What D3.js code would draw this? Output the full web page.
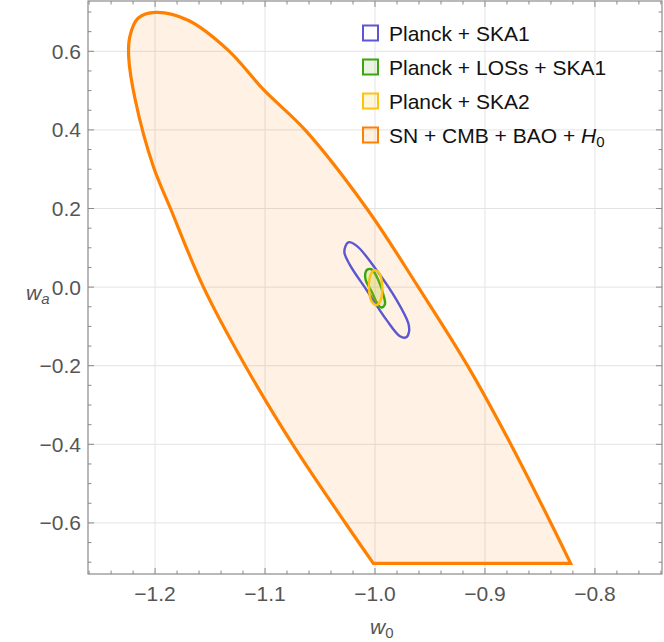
<!DOCTYPE html>
<html><head><meta charset="utf-8">
<script src="https://cdn.jsdelivr.net/npm/d3@7"></script>
<style>body{margin:0;background:#fff}text{font-family:"Liberation Sans",Arial,sans-serif}</style>
</head><body>
<svg id="c" width="664" height="642"></svg>
<script>
// contour points [w0, wa]; orange from bottom-left, up the left side, over the top, down the right side
const orangeContour = [[-1.0015,-0.703],[-1.026,-0.604],[-1.074,-0.404],[-1.118,-0.2],[-1.156,0.0],[-1.186,0.2],[-1.2015,0.306],[-1.218,0.476],[-1.224,0.586],[-1.223,0.637],[-1.2155,0.684],[-1.1994,0.699],[-1.17,0.679],[-1.1336,0.603],[-1.1009,0.501],[-1.0636,0.4],[-1.0075,0.2],[-0.9606,0.0],[-0.9152,-0.203],[-0.8757,-0.404],[-0.8394,-0.604],[-0.8221,-0.703]];
const blueContour = [[-1.0243,0.114],[-1.0166,0.105],[-0.9985,0.043],[-0.9803,-0.033],[-0.9697,-0.092],[-0.9691,-0.114],[-0.9718,-0.128],[-0.9773,-0.125],[-0.9894,-0.084],[-1.0075,-0.008],[-1.0227,0.056],[-1.0279,0.090]];
const greenContour = [[-1.0067,0.045],[-1.003,0.045],[-0.997,0.018],[-0.9918,-0.025],[-0.9909,-0.043],[-0.9939,-0.052],[-0.997,-0.046],[-1.003,-0.012],[-1.0085,0.018],[-1.0088,0.036]];
const yellowContour = [[-1.0006,0.043],[-0.996,0.035],[-0.9934,0.001],[-0.9948,-0.033],[-0.9985,-0.046],[-1.003,-0.037],[-1.0055,0.001],[-1.004,0.031]];
const seriesNames = ["Planck + SKA1","Planck + LOSs + SKA1","Planck + SKA2","SN + CMB + BAO + H0"];
const seriesColors = ["#5b57d1","#3aa60a","#ffc20e","#ff8000"];
const seriesFills = ["none","rgba(70,170,20,0.12)","rgba(255,200,20,0.15)","rgba(255,128,0,0.1)"];
const xTicks = [-1.2,-1.1,-1.0,-0.9,-0.8];
const yTicks = [-0.6,-0.4,-0.2,0.0,0.2,0.4,0.6];

const svg = d3.select("#c");
const L=88,R=662,T=1,B=574;
const x = d3.scaleLinear().domain([-1.261,-0.739]).range([L,R]);
const y = d3.scaleLinear().domain([-0.730,0.728]).range([B,T]);
const grid="#e3e3e3", ax="#8a8a8a";
xTicks.forEach(v=>svg.append("line").attr("x1",x(v)).attr("x2",x(v)).attr("y1",T).attr("y2",B).attr("stroke",grid));
yTicks.forEach(v=>svg.append("line").attr("y1",y(v)).attr("y2",y(v)).attr("x1",L).attr("x2",R).attr("stroke",grid));

const smooth = d3.line().x(d=>x(d[0])).y(d=>y(d[1])).curve(d3.curveCatmullRomClosed.alpha(0.5));
const open = d3.line().x(d=>x(d[0])).y(d=>y(d[1])).curve(d3.curveCatmullRom.alpha(0.5));
svg.append("path").attr("d",open(orangeContour)+"Z").attr("fill",seriesFills[3]).attr("stroke",seriesColors[3]).attr("stroke-width",3.2).attr("stroke-linejoin","miter");
svg.append("path").attr("d",smooth(blueContour)).attr("fill",seriesFills[0]).attr("stroke",seriesColors[0]).attr("stroke-width",2.4);
svg.append("path").attr("d",smooth(greenContour)).attr("fill",seriesFills[1]).attr("stroke",seriesColors[1]).attr("stroke-width",2.4);
svg.append("path").attr("d",smooth(yellowContour)).attr("fill",seriesFills[2]).attr("stroke",seriesColors[2]).attr("stroke-width",2.4);

svg.append("rect").attr("x",L).attr("y",T).attr("width",R-L).attr("height",B-T).attr("fill","none").attr("stroke",ax).attr("stroke-width",1.2);
const xMinor = d3.range(-1.26,-0.739,0.02).map(v=>+v.toFixed(2));
xMinor.forEach(v=>{const maj=Math.abs(v*10-Math.round(v*10))<1e-6; const len=maj?6:3.5;
  svg.append("line").attr("x1",x(v)).attr("x2",x(v)).attr("y1",B).attr("y2",B-len).attr("stroke",ax);
  svg.append("line").attr("x1",x(v)).attr("x2",x(v)).attr("y1",T).attr("y2",T+len).attr("stroke",ax);});
const yMinor = d3.range(-0.7,0.73,0.05).map(v=>+v.toFixed(2));
yMinor.forEach(v=>{const maj=Math.abs(v*5-Math.round(v*5))<1e-6; const len=maj?6:3.5;
  svg.append("line").attr("y1",y(v)).attr("y2",y(v)).attr("x1",L).attr("x2",L+len).attr("stroke",ax);
  svg.append("line").attr("y1",y(v)).attr("y2",y(v)).attr("x1",R).attr("x2",R-len).attr("stroke",ax);});
const fmt = v=> (v<0?"\u2212":"")+Math.abs(v).toFixed(1);
xTicks.forEach(v=>svg.append("text").attr("x",x(v)).attr("y",601).attr("text-anchor","middle").attr("font-size",21).attr("fill","#555").text(fmt(v)));
yTicks.forEach(v=>svg.append("text").attr("x",81).attr("y",y(v)+7.5).attr("text-anchor","end").attr("font-size",21).attr("fill","#555").text(fmt(v)));
const xl=svg.append("text").attr("x",370).attr("y",634).attr("font-size",21).attr("fill","#555");
xl.append("tspan").attr("font-style","italic").text("w");xl.append("tspan").attr("font-size",15).attr("dy",4).text("0");
const yl=svg.append("text").attr("x",26).attr("y",300).attr("font-size",21).attr("fill","#555");
yl.append("tspan").attr("font-style","italic").text("w");yl.append("tspan").attr("font-size",15).attr("font-style","italic").attr("dy",4).text("a");
seriesNames.forEach((n,i)=>{const cy=33+34*i;
  svg.append("rect").attr("x",363).attr("y",cy-7.5).attr("width",15).attr("height",15).attr("fill",i==0?"#fff":seriesFills[i]).attr("stroke",seriesColors[i]).attr("stroke-width",2);
  const t=svg.append("text").attr("x",389).attr("y",cy+7.5).attr("font-size",21).attr("fill","#111");
  if(i==3){t.append("tspan").text("SN + CMB + BAO + ");t.append("tspan").attr("font-style","italic").text("H");t.append("tspan").attr("font-size",15).attr("dy",4).text("0");}
  else t.text(n);
});
</script></body></html>
